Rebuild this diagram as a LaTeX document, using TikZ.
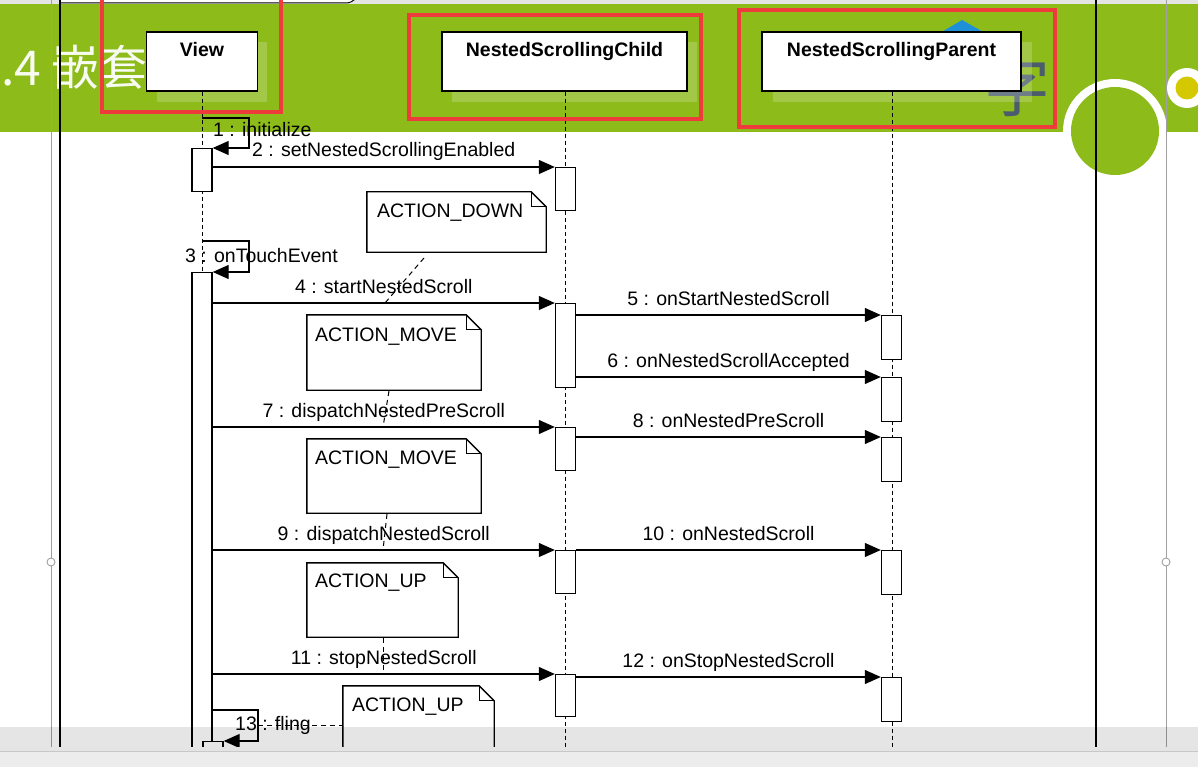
\documentclass[tikz,border=0pt]{standalone}
\usepackage{fontspec}
\setmainfont{Liberation Sans}
\newfontfamily\cjk{Noto Sans CJK SC}
\usetikzlibrary{arrows.meta,calc}
\definecolor{banner}{RGB}{140,187,26}
\definecolor{redbox}{RGB}{238,60,60}
\definecolor{ygold}{RGB}{212,200,0}
\definecolor{slate}{RGB}{75,92,108}
\definecolor{bluetri}{RGB}{30,144,216}
\definecolor{topgray}{RGB}{228,228,228}
\definecolor{botgray}{RGB}{236,236,236}
\definecolor{edgegray}{RGB}{200,200,200}
\definecolor{handlegray}{RGB}{160,160,160}
\newcommand\lblfont{\fontsize{19.5}{22}\selectfont}
\begin{document}
\begin{tikzpicture}[x=1pt,y=-1pt,
  headbox/.style={draw=black, line width=1.4pt, fill=white, inner sep=0pt, minimum height=59pt},
  headtext/.style={font=\bfseries\lblfont, anchor=base, inner sep=0pt},
  lifeline/.style={line width=1pt, dash pattern=on 4pt off 3pt},
  actbar/.style={draw=black, line width=1.4pt, fill=white, inner sep=0pt, minimum width=20pt, anchor=north},
  msg/.style={line width=1.2pt, -{Triangle[length=16pt,width=14pt]}},
  msglabel/.style={font=\lblfont, anchor=base, yshift=10pt, inner sep=0pt},
  selflabel/.style={font=\lblfont, anchor=base west, inner sep=0pt},
  notebox/.style={inner sep=0pt},
  notepath/.style={draw=black, line width=1.4pt, fill=white},
  notetext/.style={font=\lblfont, anchor=base west, inner sep=0pt},
  anchorline/.style={line width=1pt, dash pattern=on 5pt off 4pt},
  redframe/.style={draw=redbox, line width=3.2pt},
  shade/.style={fill=white, fill opacity=0.2},
  pageline/.style={draw=black, line width=1.3pt},
  guideline/.style={draw=handlegray, line width=0.8pt},
  handle/.style={circle, draw=handlegray, fill=white, line width=0.9pt, minimum size=8pt, inner sep=0pt}
]
\useasboundingbox (0,0) rectangle (1198,767);
% ---------- slide background ----------
\fill[white] (0,0) rectangle (1198,767);
\fill[topgray] (0,0) rectangle (1198,5);
\fill[white] (60,-1) rectangle (352,3);
\draw[line width=1pt] (60,3) -- (346,3) to[out=0,in=-135] (356,-2);
\fill[banner] (0,4.5) rectangle (1198,132.5);
% decorative circles
\fill[white] (1115,131) circle[radius=52];
\fill[banner] (1115,131) circle[radius=44];
\fill[white] (1187,88) circle[radius=20];
\fill[ygold] (1187,88) circle[radius=11.5];
% title texts
\node[anchor=base west, inner sep=0pt, font=\cjk\fontsize{48}{52}\selectfont, text=white!94!banner] (title) at (1,86) {.4 嵌套};
\node[inner sep=0pt, font=\cjk\fontsize{66}{68}\selectfont, text=slate] (zi) at (1017,86) {字};
\fill[bluetri] (940,33) -- (962,20) -- (985,33) -- cycle;
% light shadows behind header boxes
\fill[shade] (157,42) rectangle (267,102);
\fill[shade] (452,42) rectangle (697,102);
\fill[shade] (773,42) rectangle (1032,102);
% page guide lines
\draw[guideline] (51,0) -- (51,747);
\draw[pageline] (60,0) -- (60,747);
\draw[pageline] (1096,0) -- (1096,747);
\draw[guideline] (1166,0) -- (1166,747);
\node[handle] (hl) at (51,562) {};
\node[handle] (hr) at (1166,562) {};
% ---------- sequence diagram ----------
\begin{scope}
\clip (0,0) rectangle (1198,747);
% header boxes
\node[headbox, minimum width=111pt] (view) at (202,61.5) {};
\node[headbox, minimum width=245pt] (child) at (564.5,61.5) {};
\node[headbox, minimum width=259pt] (parent) at (891.5,61.5) {};
\node[headtext] (viewt) at (202,57) {View};
\node[headtext] (childt) at (564.5,57) {NestedScrollingChild};
\node[headtext] (parentt) at (891.5,57) {NestedScrollingParent};
% lifelines
\coordinate (viewend) at (202,760);
\coordinate (childend) at (565.5,760);
\coordinate (parentend) at (892,760);
\draw[lifeline] (view.south) -- (viewend);
\draw[lifeline] (child.south -| childend) -- (childend);
\draw[lifeline] (parent.south -| parentend) -- (parentend);
% notes
\node[notebox, minimum width=179pt, minimum height=60pt] (nd) at (456.5,222) {};
\node[notebox, minimum width=174pt, minimum height=75pt] (nm1) at (394,352.5) {};
\node[notebox, minimum width=174pt, minimum height=74pt] (nm2) at (394,476) {};
\node[notebox, minimum width=151pt, minimum height=74pt] (nu1) at (382.5,600) {};
\node[notebox, minimum width=151pt, minimum height=84pt] (nu2) at (418.5,728) {};
\foreach \n in {nd,nm1,nm2,nu1,nu2}{
  \draw[notepath] (\n.north west) -- ($(\n.north east)+(-15,0)$) -- ($(\n.north east)+(0,15)$)
     -- (\n.south east) -- (\n.south west) -- cycle;
  \draw[line width=1.2pt] ($(\n.north east)+(-15,0)$) |- ($(\n.north east)+(0,15)$);
}
\node[notetext] (ndt) at ($(nd.north west)+(10,26)$) {ACTION\_DOWN};
\node[notetext] (nm1t) at ($(nm1.north west)+(8,27)$) {ACTION\_MOVE};
\node[notetext] (nm2t) at ($(nm2.north west)+(8,26)$) {ACTION\_MOVE};
\node[notetext] (nu1t) at ($(nu1.north west)+(8,25)$) {ACTION\_UP};
\node[notetext] (nu2t) at ($(nu2.north west)+(9,26)$) {ACTION\_UP};
% activation bars
\node[actbar, minimum height=43pt] (vb1) at (202,148) {};
\node[actbar, minimum height=500pt] (vb2) at (202,272) {};
\node[actbar, minimum height=43pt] (cb1) at (565.5,167) {};
\node[actbar, minimum height=84pt] (cb2) at (565.5,303) {};
\node[actbar, minimum height=43pt] (cb3) at (565.5,427) {};
\node[actbar, minimum height=43pt] (cb4) at (565.5,550) {};
\node[actbar, minimum height=42pt] (cb5) at (565.5,674) {};
\node[actbar, minimum height=44pt] (pb1) at (891.5,315) {};
\node[actbar, minimum height=44pt] (pb2) at (891.5,377) {};
\node[actbar, minimum height=44pt] (pb3) at (891.5,437) {};
\node[actbar, minimum height=44pt] (pb4) at (891.5,550) {};
\node[actbar, minimum height=44pt] (pb5) at (891.5,677) {};
\node[actbar, minimum height=30pt] (vb3) at (213,741) {};
% self messages
\coordinate (s1) at (202,118);
\coordinate (s1c) at (249,148);
\draw[msg] (s1) -| (s1c) -- (vb1.north east);
\node[selflabel] (l1) at (213,137) {1 : initialize};
\coordinate (s3) at (202,241);
\coordinate (s3c) at (249,272);
\draw[msg] (s3) -| (s3c) -- (vb2.north east);
\node[selflabel] (l3) at (185,262) {3 : onTouchEvent};
\coordinate (s13) at (212,710);
\coordinate (s13c) at (258,741);
\draw[msg] (s13) -| (s13c) -- (vb3.north east);
\node[selflabel] (l13) at (235,730) {13 : fling};
% messages
\draw[msg] (vb1.east |- cb1.north west) -- node[msglabel]{2 : setNestedScrollingEnabled} (cb1.north west);
\draw[msg] (vb2.east |- cb2.north west) -- node[msglabel]{4 : startNestedScroll} (cb2.north west);
\draw[msg] (cb2.east |- pb1.north west) -- node[msglabel]{5 : onStartNestedScroll} (pb1.north west);
\draw[msg] (cb2.east |- pb2.north west) -- node[msglabel]{6 : onNestedScrollAccepted} (pb2.north west);
\draw[msg] (vb2.east |- cb3.north west) -- node[msglabel]{7 : dispatchNestedPreScroll} (cb3.north west);
\draw[msg] (cb3.east |- pb3.north west) -- node[msglabel]{8 : onNestedPreScroll} (pb3.north west);
\draw[msg] (vb2.east |- cb4.north west) -- node[msglabel]{9 : dispatchNestedScroll} (cb4.north west);
\draw[msg] (cb4.east |- pb4.north west) -- node[msglabel]{10 : onNestedScroll} (pb4.north west);
\draw[msg] (vb2.east |- cb5.north west) -- node[msglabel]{11 : stopNestedScroll} (cb5.north west);
\draw[msg] (cb5.east |- pb5.north west) -- node[msglabel]{12 : onStopNestedScroll} (pb5.north west);
% note anchors
\coordinate (a1) at (424,258); \coordinate (a1e) at (385,303);
\coordinate (a2) at (389,391); \coordinate (a2e) at (383,427);
\coordinate (a3) at (387,514); \coordinate (a3e) at (383,550);
\coordinate (a4) at (383,638); \coordinate (a4e) at (383,674);
\coordinate (a5) at (258,725);
\draw[anchorline] (a1) -- (a1e);
\draw[anchorline] (a2) -- (a2e);
\draw[anchorline] (a3) -- (a3e);
\draw[anchorline] (a4) -- (a4e);
\draw[anchorline] (a5) -- (nu2.west |- a5);
\end{scope}
% annotation frames
\draw[redframe] (102,-3) rectangle (281,112);
\draw[redframe] (409,15) rectangle (701,119);
\draw[redframe] (739,10) rectangle (1055,127);
% bottom window strip
\fill[black, fill opacity=0.1] (0,727) rectangle (1198,747);
\fill[topgray] (0,747) rectangle (1198,751);
\fill[botgray] (0,751) rectangle (1198,767);
\draw[edgegray, line width=1pt] (0,751) -- (1198,751);
\end{tikzpicture}
\end{document}
